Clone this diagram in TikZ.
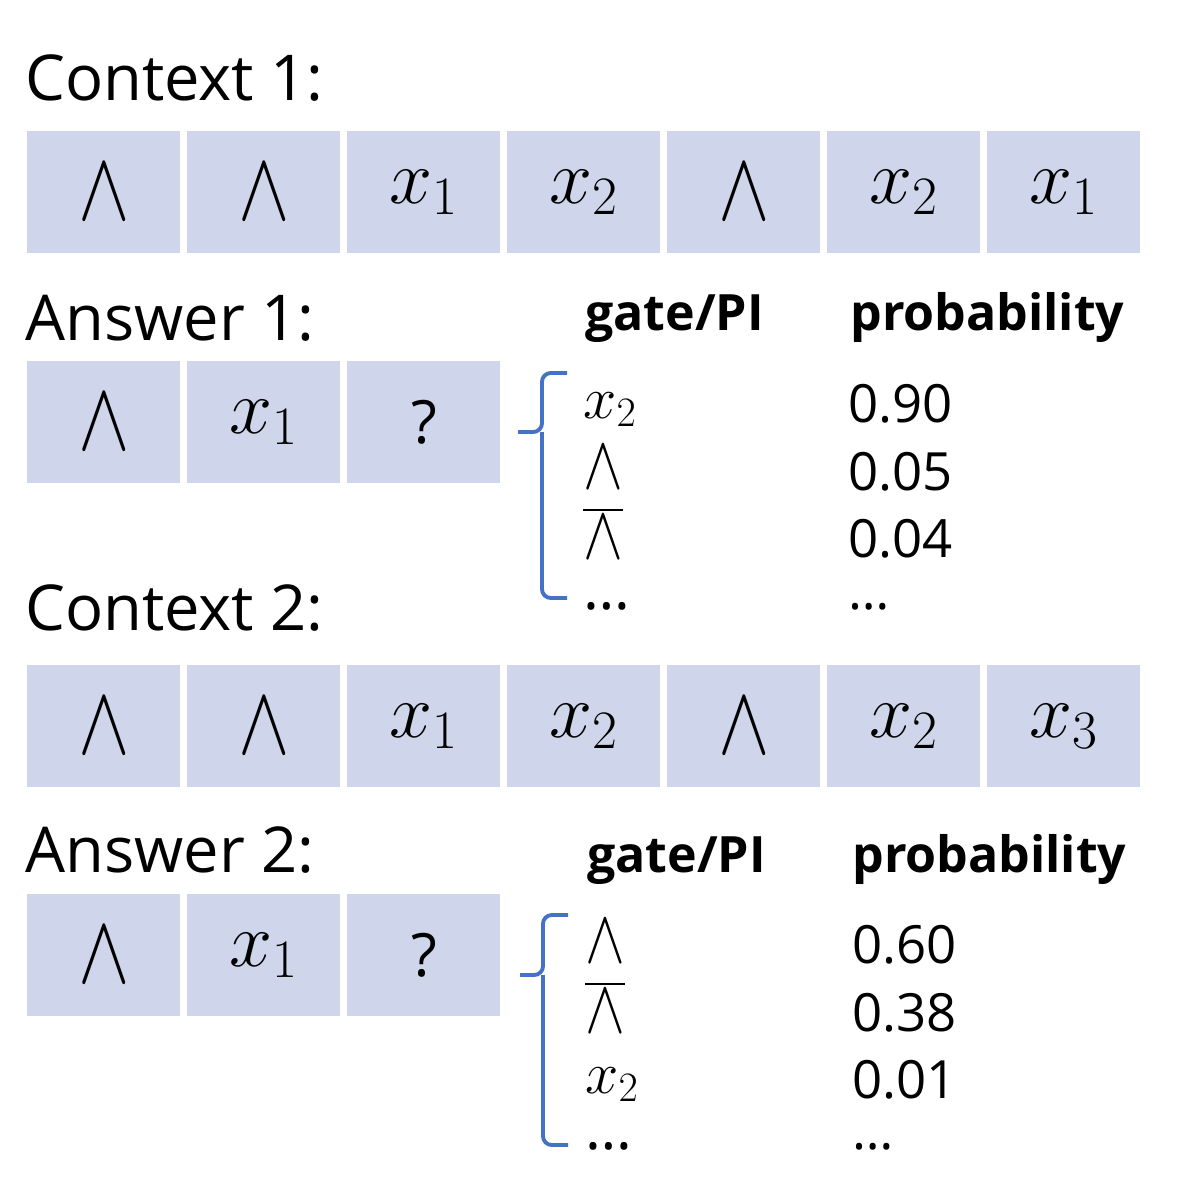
\RequirePackage{fix-cm}
\documentclass[tikz,border=0pt]{standalone}
\usepackage{fontspec}
\setmainfont{Open Sans}
\usepackage{amsmath}
\usepackage{graphicx}
\usepackage{xcolor}
\definecolor{cellblue}{HTML}{CFD5EA}
\definecolor{braceblue}{HTML}{4472C4}
\newcommand{\gand}{\mathord{\scalebox{1}[1.27]{$\wedge$}}}

\begin{document}
\begin{tikzpicture}[x=0.02cm,y=-0.02cm,
    cell/.style={fill=cellblue,minimum width=3.06cm,minimum height=2.44cm,inner sep=0pt,
      anchor=north west,font=\fontsize{44}{50}\selectfont},
    title/.style={anchor=base west,inner sep=0pt,font=\fontsize{36}{40}\selectfont},
    head/.style={anchor=base west,inner sep=0pt,font=\fontsize{28.5}{32}\selectfont\bfseries},
    item/.style={anchor=base west,inner sep=0pt,font=\fontsize{34}{40}\selectfont},
    prob/.style={anchor=base west,inner sep=0pt,font=\fontsize{30}{36}\selectfont},
    more/.style={text height=4pt,text depth=0pt},
    brace/.style={draw=braceblue,line width=2.2pt,rounded corners=5pt}]
    \useasboundingbox (0,0) rectangle (1196,1201);

    % titles
    \node[title] (ctx1) at (25,100) {Context 1:};
    \node[title] (ans1) at (25,340) {Answer 1:};
    \node[title] (ctx2) at (25,630) {Context 2:};
    \node[title] (ans2) at (25,872) {Answer 2:};

    % context rows
    \foreach \t [count=\i from 0] in {\gand,\gand,x_1,x_2,\gand,x_2,x_1}{
      \node[cell] (ctxa\i) at (27+160*\i,131) {$\t$};
    }
    \foreach \t [count=\i from 0] in {\gand,\gand,x_1,x_2,\gand,x_2,x_3}{
      \node[cell] (ctxb\i) at (27+160*\i,665) {$\t$};
    }

    % answer rows
    \foreach \t [count=\i from 0] in {$\gand$,$x_1$,{\fontsize{34}{40}\selectfont ?}}{
      \node[cell] (ansa\i) at (27+160*\i,361) {\t};
      \node[cell] (ansb\i) at (27+160*\i,894) {\t};
    }

    % candidates of answer 1
    \node[head] (gatea) at (585,330) {gate/PI};
    \node[head] (proba) at (850,330) {probability};
    \draw[brace] (567,373) -| (542,432) -- (518,432) (542,432) |- (567,598);
    \node[item] (ga1) at (583,418) {$x_2$};
    \node[item] (ga2) at (583,488) {$\gand$};
    \node[item] (ga3) at (583,558) {$\overline{\gand}$};
    \node[item,more] (ga4) at (583,609) {\dots};
    \node[prob] (pa1) at (848,422) {0.90};
    \node[prob] (pa2) at (848,490) {0.05};
    \node[prob] (pa3) at (848,557) {0.04};
    \node[prob,more] (pa4) at (848,609) {\dots};

    % candidates of answer 2
    \node[head] (gateb) at (587,872) {gate/PI};
    \node[head] (probb) at (852,872) {probability};
    \draw[brace] (568,915) -| (543,975) -- (520,975) (543,975) |- (568,1145);
    \node[item] (gb1) at (585,962) {$\gand$};
    \node[item] (gb2) at (585,1032) {$\overline{\gand}$};
    \node[item] (gb3) at (585,1093) {$x_2$};
    \node[item,more] (gb4) at (585,1149) {\dots};
    \node[prob] (pb1) at (852,963) {0.60};
    \node[prob] (pb2) at (852,1031) {0.38};
    \node[prob] (pb3) at (852,1098) {0.01};
    \node[prob,more] (pb4) at (852,1149) {\dots};
\end{tikzpicture}
\end{document}
